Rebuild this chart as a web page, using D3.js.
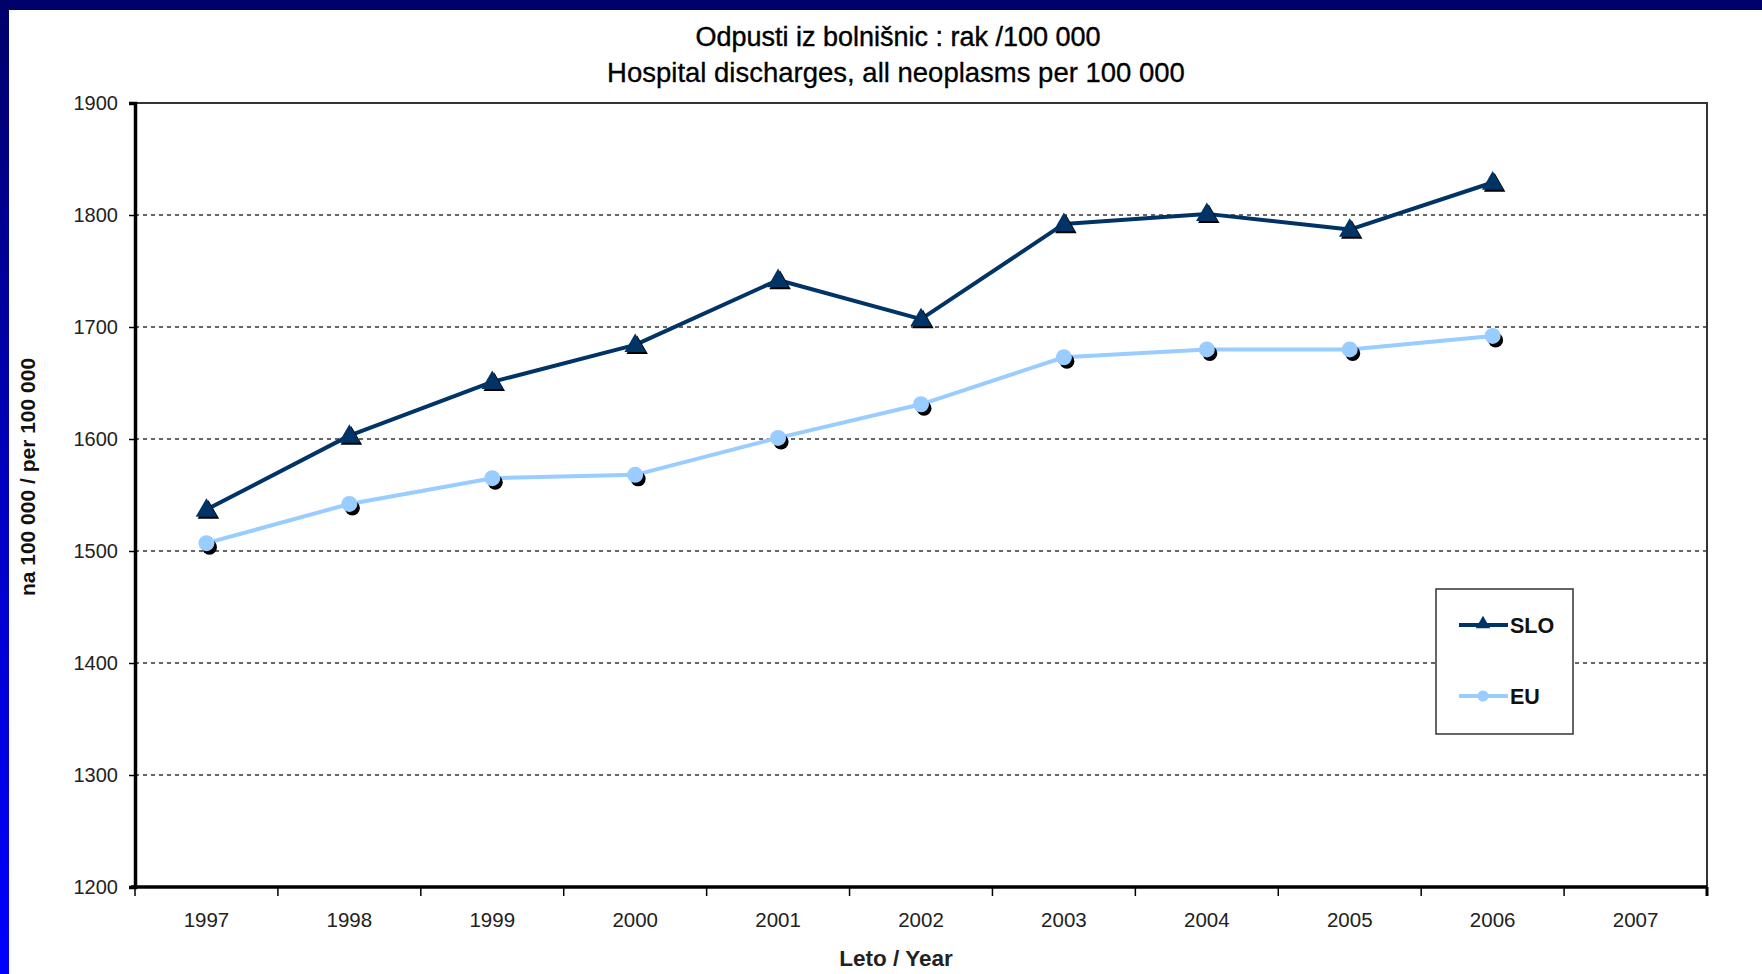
<!DOCTYPE html>
<html>
<head>
<meta charset="utf-8">
<script src="https://cdn.jsdelivr.net/npm/d3@7"></script>
<style>
  html, body { margin: 0; padding: 0; }
  body { width: 1762px; height: 974px; overflow: hidden; background: linear-gradient(to bottom, #00006a 0%, #0000c8 55%, #0000ff 100%); }
  svg { display: block; }
</style>
</head>
<body>
<svg id="chart" width="1762" height="974"></svg>
<script>
// Hospital discharges, all neoplasms, per 100 000 inhabitants
const years = ["1997", "1998", "1999", "2000", "2001", "2002", "2003", "2004", "2005", "2006", "2007"];
const sloValues = [1537, 1603, 1651, 1684, 1742, 1707, 1792, 1801, 1787, 1829];
const euValues = [1507, 1542, 1565, 1568, 1601, 1631, 1673, 1680, 1680, 1692];
const yTicks = [1200, 1300, 1400, 1500, 1600, 1700, 1800, 1900];
const seriesNames = ["SLO", "EU"];

const svg = d3.select("#chart");
const W = 1762, H = 974;

// white slide area
svg.append("rect").attr("x", 9).attr("y", 10).attr("width", W - 9).attr("height", H - 10).attr("fill", "#ffffff");

const plot = { left: 135, right: 1707, top: 103, bottom: 887 };

const x = d3.scaleBand().domain(years).range([plot.left, plot.right]).padding(0);
const y = d3.scaleLinear().domain([1200, 1900]).range([plot.bottom, plot.top]);
const cx = yr => x(yr) + x.bandwidth() / 2;

const font = "Arial, 'Liberation Sans', sans-serif";

// gridlines
svg.append("g").selectAll("line").data(yTicks.filter(t => t > 1200 && t < 1900)).join("line")
  .attr("x1", plot.left).attr("x2", plot.right)
  .attr("y1", d => y(d)).attr("y2", d => y(d))
  .attr("stroke", "#333").attr("stroke-width", 1.3).attr("stroke-dasharray", "4,4");

// plot frame (top and right)
svg.append("path")
  .attr("d", `M${plot.left},${plot.top}H${plot.right}V${plot.bottom}`)
  .attr("fill", "none").attr("stroke", "#333").attr("stroke-width", 2);

// y axis
const yAxis = d3.axisLeft(y).tickValues(yTicks).tickSize(6).tickPadding(11).tickFormat(d3.format("d"));
const gy = svg.append("g").attr("transform", `translate(${plot.left},0)`).call(yAxis);
gy.select(".domain").attr("stroke", "#000").attr("stroke-width", 3.5);
gy.selectAll(".tick line").attr("stroke", "#000").attr("stroke-width", 1.5);
gy.selectAll(".tick text").attr("font-family", font).attr("font-size", 20).attr("fill", "#222");

// x axis: ticks between categories
const gx = svg.append("g").attr("transform", `translate(0,${plot.bottom})`);
gx.append("line").attr("x1", plot.left - 4).attr("x2", plot.right)
  .attr("y1", 0).attr("y2", 0).attr("stroke", "#000").attr("stroke-width", 3.5);
const boundaries = years.map(yr => x(yr)).concat([plot.right]);
gx.selectAll("line.tk").data(boundaries).join("line").attr("class", "tk")
  .attr("x1", d => d).attr("x2", d => d).attr("y1", 0).attr("y2", 9)
  .attr("stroke", "#000").attr("stroke-width", (d, i) => i === boundaries.length - 1 ? 3 : 1.5);
gx.selectAll("text").data(years).join("text")
  .attr("x", d => cx(d)).attr("y", 40)
  .attr("text-anchor", "middle").attr("font-family", font).attr("font-size", 20.5).attr("fill", "#222")
  .text(d => d);

// titles
svg.append("text").attr("x", 898).attr("y", 46).attr("text-anchor", "middle")
  .attr("font-family", font).attr("font-size", 27).attr("fill", "#000")
  .attr("stroke", "#000").attr("stroke-width", 0.4)
  .text("Odpusti iz bolnišnic : rak /100 000");
svg.append("text").attr("x", 896).attr("y", 82).attr("text-anchor", "middle")
  .attr("font-family", font).attr("font-size", 27.5).attr("fill", "#000")
  .attr("stroke", "#000").attr("stroke-width", 0.3)
  .text("Hospital discharges, all neoplasms per 100 000");

// axis titles
svg.append("text").attr("x", 896).attr("y", 966).attr("text-anchor", "middle")
  .attr("font-family", font).attr("font-size", 22.5).attr("font-weight", "bold").attr("fill", "#222")
  .text("Leto / Year");
svg.append("text").attr("transform", "translate(35,477) rotate(-90)").attr("text-anchor", "middle")
  .attr("font-family", font).attr("font-size", 21).attr("font-weight", "bold").attr("fill", "#111")
  .text("na 100 000 / per 100 000");

// series
const line = d3.line().x((d, i) => cx(years[i])).y(d => y(d));
const triPath = d3.symbol().type(d3.symbolTriangle).size(200)();

const series = [
  { name: seriesNames[0], values: sloValues, color: "#003366", marker: "tri" },
  { name: seriesNames[1], values: euValues, color: "#99ccff", marker: "circle" }
];

series.forEach(s => {
  svg.append("path").datum(s.values).attr("d", line)
    .attr("fill", "none").attr("stroke", s.color).attr("stroke-width", 4).attr("stroke-linejoin", "round");
  const g = svg.append("g");
  s.values.forEach((v, i) => {
    const px = cx(years[i]), py = y(v);
    if (s.marker === "tri") {
      g.append("path").attr("d", triPath).attr("transform", `translate(${px + 2},${py + 3})`).attr("fill", "#000");
      g.append("path").attr("d", triPath).attr("transform", `translate(${px},${py + 1})`).attr("fill", s.color);
    } else {
      g.append("circle").attr("cx", px + 3).attr("cy", py + 4).attr("r", 7.5).attr("fill", "#000");
      g.append("circle").attr("cx", px).attr("cy", py).attr("r", 8).attr("fill", s.color);
    }
  });
});

// legend
const lg = svg.append("g");
lg.append("rect").attr("x", 1436).attr("y", 589).attr("width", 137).attr("height", 145)
  .attr("fill", "#fff").attr("stroke", "#333").attr("stroke-width", 1.5);
const smallTri = d3.symbol().type(d3.symbolTriangle).size(90)();
series.forEach((s, i) => {
  const ly = i === 0 ? 625 : 696;
  lg.append("line").attr("x1", 1459).attr("x2", 1508).attr("y1", ly).attr("y2", ly)
    .attr("stroke", s.color).attr("stroke-width", 4);
  if (s.marker === "tri") {
    lg.append("path").attr("d", smallTri).attr("transform", `translate(1483,${ly - 1})`).attr("fill", s.color);
  } else {
    lg.append("circle").attr("cx", 1483).attr("cy", ly).attr("r", 5.5).attr("fill", s.color);
  }
  lg.append("text").attr("x", 1510).attr("y", ly + 8).attr("font-family", font)
    .attr("font-size", 21.5).attr("font-weight", "bold").attr("fill", "#111").text(s.name);
});
</script>
</body>
</html>
